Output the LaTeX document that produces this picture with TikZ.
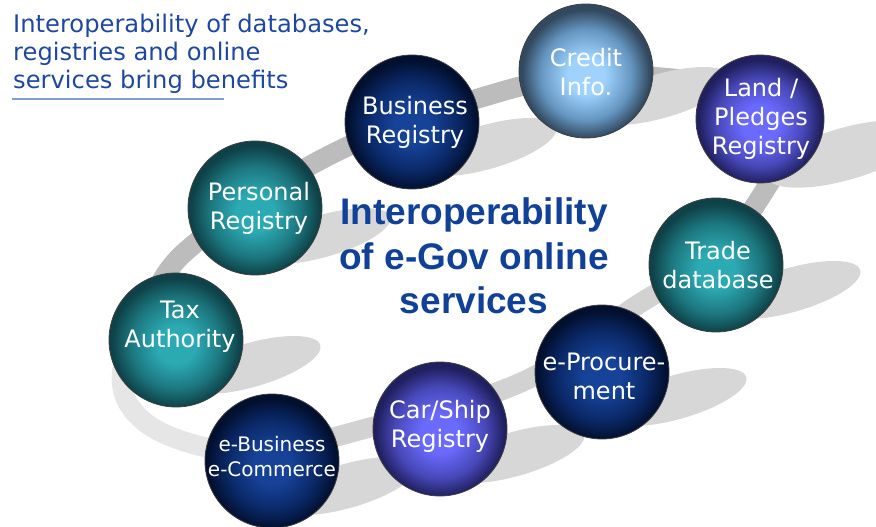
\documentclass[tikz,border=0pt]{standalone}
\usepackage{fontspec}
\setmainfont{DejaVu Sans}
\newfontfamily\titlefont{Liberation Sans}
\definecolor{introblue}{RGB}{30,72,160}
\definecolor{titleblue}{RGB}{16,64,152}
\definecolor{ulineblue}{RGB}{128,158,208}
\definecolor{ribbontop}{RGB}{188,188,188}
\definecolor{ribbonmid}{RGB}{210,210,210}
\definecolor{ribbonlow}{RGB}{230,230,230}
\definecolor{shadowgray}{RGB}{215,215,215}
\definecolor{navyC}{RGB}{22,66,152}
\definecolor{navyM}{RGB}{10,40,102}
\definecolor{navyE}{RGB}{2,16,48}
\definecolor{tealC}{RGB}{44,170,180}
\definecolor{tealM}{RGB}{28,118,126}
\definecolor{tealE}{RGB}{14,66,72}
\definecolor{purpC}{RGB}{106,106,255}
\definecolor{purpM}{RGB}{72,72,185}
\definecolor{purpE}{RGB}{32,32,96}
\definecolor{steelC}{RGB}{160,210,255}
\definecolor{steelM}{RGB}{100,150,192}
\definecolor{steelE}{RGB}{50,72,94}
\pgfdeclareradialshading{navyball}{\pgfpoint{0bp}{-2bp}}{color(0bp)=(navyC); color(7bp)=(navyC); color(17bp)=(navyM); color(24bp)=(navyE); color(50bp)=(navyE)}
\pgfdeclareradialshading{tealball}{\pgfpoint{0bp}{-2bp}}{color(0bp)=(tealC); color(7bp)=(tealC); color(17bp)=(tealM); color(24bp)=(tealE); color(50bp)=(tealE)}
\pgfdeclareradialshading{purpball}{\pgfpoint{0bp}{-2bp}}{color(0bp)=(purpC); color(7bp)=(purpC); color(17bp)=(purpM); color(24bp)=(purpE); color(50bp)=(purpE)}
\pgfdeclareradialshading{steelball}{\pgfpoint{0bp}{-2bp}}{color(0bp)=(steelC); color(7bp)=(steelC); color(17bp)=(steelM); color(24bp)=(steelE); color(50bp)=(steelE)}
\tikzset{
  ballnode/.style={circle, minimum size=134pt, inner sep=0pt, draw=black!75, line width=0.8pt, shade},
  balltext/.style={text=white, align=center, inner sep=0pt, font=\fontsize{24}{29}\selectfont},
  smallballtext/.style={text=white, align=center, inner sep=0pt, font=\fontsize{20}{25}\selectfont},
  ribbon/.style={line width=20pt},
  shadowblob/.style={fill=shadowgray},
  titletext/.style={text=titleblue, align=center, inner sep=0pt, font=\titlefont\bfseries\fontsize{37}{44.5}\selectfont},
  introtext/.style={text=introblue, align=left, inner sep=0pt, anchor=north west, font=\fontsize{24.2}{28}\selectfont},
}
\begin{document}
\begin{tikzpicture}[x=1pt,y=-1pt]
\useasboundingbox (0,0) rectangle (876,527);
\clip (0,0) rectangle (876,527);
% grey ribbon loop behind the spheres (three parts, joined under spheres)
\draw[ribbon, draw=ribbonlow] plot[smooth, tension=0.65] coordinates {
  (272,452) (200,446) (140,418) (122,372) (150,315)};
\draw[ribbon, draw=ribbonmid] plot[smooth, tension=0.65] coordinates {
  (716,262) (642,302) (522,382) (357,431) (272,452)};
\draw[ribbon, draw=ribbontop] plot[smooth, tension=0.65] coordinates {
  (150,315) (185,252) (330,155) (500,92) (600,76) (705,82) (765,95) (790,140) (765,190) (716,262)};
% shadows of the spheres
\foreach \cx/\cy/\a/\b/\dx/\dy in {412/122/72/22/75/25, 586/71/72/22/75/25, 760/119/82/26/85/35,
  255/208/70/21/68/28, 716/265/72/22/75/25, 602/372/72/22/75/25, 176/340/72/22/75/25,
  272/461/72/22/75/25, 440/429/72/22/75/25}{
  \fill[shadowblob, rotate around={16:(\cx+\dx,\cy+\dy)}] (\cx+\dx,\cy+\dy) ellipse [x radius=\a pt, y radius=\b pt];
}
% spheres
\node[ballnode, shading=navyball]  (busreg)  at (412,122) {};
\node[ballnode, shading=steelball] (credit)  at (586,71)  {};
\node[ballnode, shading=purpball, minimum size=128pt] (land) at (760,119) {};
\node[ballnode, shading=tealball]  (person)  at (255,208) {};
\node[ballnode, shading=tealball]  (trade)   at (716,265) {};
\node[ballnode, shading=navyball]  (eproc)   at (602,372) {};
\node[ballnode, shading=tealball]  (tax)     at (176,340) {};
\node[ballnode, shading=navyball]  (ebus)    at (272,461) {};
\node[ballnode, shading=purpball]  (carship) at (440,429) {};
% labels
\node[balltext] (busreg-t)  at (415,122) {Business\\Registry};
\node[balltext] (credit-t)  at (586,72)  {Credit\\Info.};
\node[balltext] (land-t)    at (761,119) {Land /\\Pledges\\Registry};
\node[balltext] (person-t)  at (259,208) {Personal\\Registry};
\node[balltext] (trade-t)   at (718,265) {Trade\\database};
\node[balltext] (eproc-t)   at (604,376) {e-Procure-\\ment};
\node[balltext] (tax-t)     at (180,327) {Tax\\Authority};
\node[smallballtext] (ebus-t) at (272,457) {e-Business\\e-Commerce};
\node[balltext] (carship-t) at (440,426) {Car/Ship\\Registry};
% central title
\node[titletext] (title) at (474,256) {Interoperability\\of e-Gov online\\services};
% heading top left
\node[introtext] (intro) at (13,14) {Interoperability of databases,\\registries and online\\services bring benefits};
\coordinate (ul-a) at (12,99);
\coordinate (ul-b) at (224,99);
\draw[ulineblue, line width=1.5pt] (ul-a) -- (ul-b);
\end{tikzpicture}
\end{document}
